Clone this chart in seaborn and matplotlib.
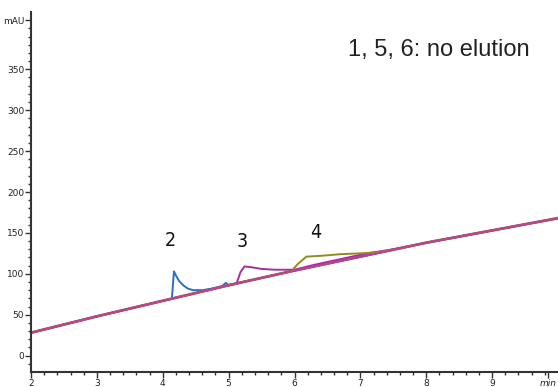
import numpy as np
import pandas as pd
import matplotlib.pyplot as plt
import seaborn as sns

# run 1, 5, 6: no elution (baseline only)
t_base = [2, 3, 4, 5, 6, 7, 8, 9, 10]
run1 = [27.5, 47.5, 66.5, 85.5, 103.5, 120.5, 137.5, 152.5, 167.5]
run5 = [28.6, 48.6, 67.6, 86.6, 104.6, 121.6, 138.6, 153.6, 168.6]
run6 = [28, 48, 67, 86, 104, 121, 138, 153, 168]

# run 2
t_run2 = [2, 3, 4, 4.13, 4.14, 4.17, 4.2, 4.25, 4.31, 4.38, 4.46, 4.6, 4.75, 4.9, 4.96,
          4.99, 5.02, 5.1, 6, 7, 8, 9, 10]
run2 = [28, 48, 67, 69.5, 71, 103, 98, 91, 86, 82, 80, 80, 82, 85, 89,
        86, 87, 88, 104, 121, 138, 153, 168]

# run 3
t_run3 = [2, 3, 4, 5, 5.12, 5.18, 5.24, 5.35, 5.5, 5.7, 5.85, 6.0, 6.3, 6.7,
          7.1, 7.5, 8, 9, 10]
run3 = [28, 48, 67, 86, 88, 102, 109, 108, 106, 105, 105, 105, 111, 118,
        125, 130, 138, 153, 168]

# run 4
t_run4 = [2, 3, 4, 5, 5.95, 6.05, 6.18, 6.4, 6.7, 7.0, 7.2, 7.4, 7.6, 8, 9, 10]
run4 = [28, 48, 67, 86, 103, 112, 121, 122, 124, 125, 126, 128, 131, 138, 153, 168]

peak_labels = ['2', '3', '4']
peak_t = [4.12, 5.2, 6.32]
peak_y = [141, 139, 150]

runs = {'1': (t_base, run1), '5': (t_base, run5), '2': (t_run2, run2),
        '3': (t_run3, run3), '4': (t_run4, run4), '6': (t_base, run6)}
df = pd.concat([pd.DataFrame({'time': t, 'mAU': y, 'run': r}) for r, (t, y) in runs.items()])

colors = {'1': '#e0303a', '5': '#3aa040', '2': '#2a6fc4', '3': '#a4329c',
          '4': '#8e8e1c', '6': '#c83c96'}

sns.set_style('white')
narrow = ['Liberation Sans Narrow', 'DejaVu Sans']

fig = plt.figure(figsize=(5.58, 3.87), dpi=100)
ax = fig.add_axes([31/558, 15/387, 1 - 31/558, 360/387])

sns.lineplot(data=df, x='time', y='mAU', hue='run', palette=colors, estimator=None,
             sort=False, linewidth=1.4, legend=False, ax=ax)

for lab, t, y in zip(peak_labels, peak_t, peak_y):
    ax.text(t, y, lab, ha='center', va='center', fontsize=14, family=narrow,
            stretch='condensed', color='#111111')

ax.text((530 - 31) / 527, 0.895, '1, 5, 6: no elution', transform=ax.transAxes, ha='right',
        va='center', fontsize=17, family=['Liberation Sans', 'DejaVu Sans'], color='#222222')

ax.set_xlim(2, 10)
ax.set_ylim(-20, 420)
ax.set_xticks([2, 3, 4, 5, 6, 7, 8, 9, 9.85])
ax.set_xticklabels(['2', '3', '4', '5', '6', '7', '8', '9', 'min'])
ax.set_xticks(np.arange(2, 10, 0.2), minor=True)
ax.set_yticks([0, 50, 100, 150, 200, 250, 300, 350, 410])
ax.set_yticklabels(['0', '50', '100', '150', '200', '250', '300', '350', 'mAU'])
ax.set_yticks(np.arange(-10, 420, 10), minor=True)
ax.get_xticklabels()[-1].set_style('italic')
ax.get_xticklines()[-2].set_visible(False)
ax.get_yticklines()[-2].set_visible(False)

for lab in ax.get_xticklabels() + ax.get_yticklabels():
    lab.set_family(narrow)
    lab.set_fontsize(6.5)
    lab.set_color('#222222')
ax.tick_params(axis='both', which='major', direction='out', length=4, width=1, color='#333333', pad=1)
ax.tick_params(axis='both', which='minor', direction='out', length=2, width=1, color='#333333')
ax.tick_params(axis='x', which='both', bottom=True)
ax.tick_params(axis='y', which='both', left=True)
ax.set_xlabel('')
ax.set_ylabel('')
sns.despine(ax=ax)
for s in ['left', 'bottom']:
    ax.spines[s].set_color('#333333')
    ax.spines[s].set_linewidth(1.5)

fig.savefig('out.png', dpi=100)
